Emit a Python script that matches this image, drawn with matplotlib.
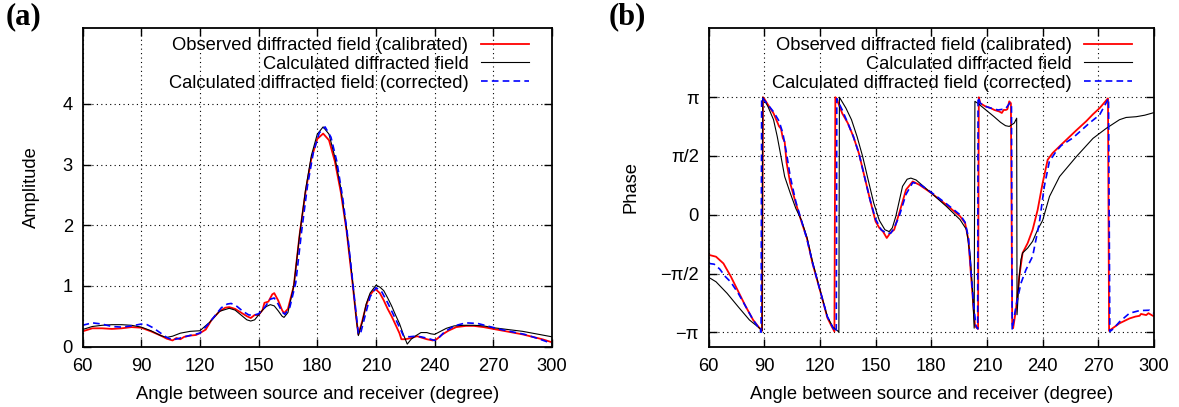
"""Observed vs calculated diffracted field: (a) amplitude, (b) phase."""

import matplotlib
matplotlib.use("Agg")

import matplotlib.pyplot as plt
import numpy as np

FS = 13.2
plt.rcParams["font.family"] = ["Liberation Sans", "DejaVu Sans"]
plt.rcParams["font.size"] = FS

LABELS = [
    "Observed diffracted field (calibrated)",
    "Calculated diffracted field",
    "Calculated diffracted field (corrected)",
]

# (a) amplitude
amp_obs_deg = [60, 65, 70, 75, 80, 85, 90, 95, 100, 103, 106, 108, 110, 112, 115, 118,
               120, 123, 126, 130, 133, 135, 138, 141, 144, 146, 148, 150, 152, 153,
               155, 157, 158, 160, 162, 163, 165, 168, 171, 174, 177, 180, 183, 186,
               189, 192, 195, 198, 200, 201, 203, 205, 207, 209, 210, 212, 214, 216,
               218, 220, 222, 223, 225, 228, 231, 234, 236, 239, 241, 244, 247, 251,
               256, 260, 265, 270, 275, 280, 285, 290, 295, 300]
amp_obs = [0.25, 0.30, 0.30, 0.29, 0.30, 0.32, 0.31, 0.25, 0.18, 0.13, 0.10, 0.14, 0.12,
           0.16, 0.18, 0.19, 0.22, 0.28, 0.44, 0.58, 0.64, 0.65, 0.62, 0.56, 0.50, 0.47,
           0.52, 0.52, 0.60, 0.72, 0.74, 0.86, 0.88, 0.76, 0.60, 0.55, 0.62, 1.0, 1.85,
           2.55, 3.10, 3.42, 3.51, 3.40, 3.05, 2.55, 1.90, 1.05, 0.45, 0.20, 0.42, 0.68,
           0.85, 0.93, 0.94, 0.88, 0.76, 0.62, 0.50, 0.36, 0.22, 0.12, 0.12, 0.14, 0.17,
           0.14, 0.12, 0.10, 0.12, 0.20, 0.26, 0.32, 0.34, 0.34, 0.32, 0.29, 0.26, 0.23,
           0.20, 0.16, 0.12, 0.07]

amp_calc_deg = [60, 65, 70, 75, 80, 85, 90, 95, 100, 103, 106, 110, 115, 120, 125, 130,
                135, 138, 141, 144, 146, 148, 150, 152, 154, 156, 158, 160, 162, 163,
                165, 168, 171, 174, 177, 180, 183, 186, 189, 192, 195, 198, 200, 201,
                203, 205, 207, 210, 212, 214, 216, 218, 220, 222, 224, 226, 228, 230,
                233, 236, 238, 240, 243, 246, 250, 255, 260, 265, 270, 275, 280, 285,
                290, 295, 300]
amp_calc = [0.28, 0.33, 0.35, 0.36, 0.36, 0.35, 0.32, 0.26, 0.18, 0.15, 0.17, 0.22, 0.25,
            0.26, 0.40, 0.58, 0.63, 0.60, 0.52, 0.44, 0.42, 0.44, 0.52, 0.60, 0.66, 0.69,
            0.67, 0.59, 0.50, 0.48, 0.56, 1.0, 1.85, 2.58, 3.15, 3.50, 3.62, 3.50, 3.12,
            2.61, 1.93, 1.10, 0.45, 0.18, 0.40, 0.70, 0.88, 1.01, 0.98, 0.92, 0.80, 0.67,
            0.52, 0.38, 0.20, 0.04, 0.12, 0.17, 0.23, 0.23, 0.21, 0.20, 0.25, 0.30, 0.34,
            0.35, 0.35, 0.34, 0.31, 0.29, 0.27, 0.25, 0.22, 0.19, 0.16]

amp_corr_deg = [60, 65, 70, 75, 80, 85, 90, 93, 96, 100, 103, 106, 109, 112, 116, 120,
                124, 128, 131, 134, 136, 139, 142, 145, 148, 150, 153, 156, 158, 160,
                162, 163.5, 166, 169, 172, 175, 178, 181, 184, 187, 190, 193, 196, 199,
                201, 202, 204, 207, 210, 213, 216, 219, 222, 224, 227, 230, 233, 237,
                240, 242, 245, 250, 256, 262, 268, 274, 280, 286, 292, 300]
amp_corr = [0.35, 0.39, 0.37, 0.33, 0.32, 0.34, 0.37, 0.36, 0.31, 0.22, 0.15, 0.11, 0.13,
            0.16, 0.19, 0.22, 0.36, 0.52, 0.64, 0.70, 0.71, 0.66, 0.58, 0.52, 0.52, 0.54,
            0.64, 0.78, 0.80, 0.70, 0.57, 0.53, 0.65, 1.05, 1.90, 2.65, 3.20, 3.52, 3.62,
            3.45, 3.05, 2.45, 1.70, 0.80, 0.22, 0.20, 0.45, 0.82, 0.97, 0.90, 0.72, 0.52,
            0.32, 0.18, 0.16, 0.17, 0.16, 0.13, 0.10, 0.14, 0.24, 0.34, 0.39, 0.38, 0.33,
            0.28, 0.24, 0.20, 0.14, 0.05]

# (b) phase in radians
ph_obs_deg = [60, 64, 68, 72, 76, 80, 84, 87, 88.8, 89.3, 90, 92, 95, 98, 99, 100, 101,
              102, 104, 107, 110, 113, 116, 120, 124, 126, 127.8, 128.3, 129, 132, 135,
              138, 141, 144, 147, 150, 152, 154, 156, 158, 160, 162.7, 166.4, 170, 173.6,
              180, 188, 195.5, 198.2, 200, 201.3, 202.7, 203.6, 205.2, 205.6, 206.4, 209,
              212, 214, 216.6, 218, 219, 220.2, 221, 222, 222.9, 223.6, 224.1, 225.6,
              227.4, 229.2, 231.9, 234.6, 237.3, 240, 242.7, 245.4, 250.8, 258, 263.5,
              267, 270.7, 275.2, 275.8, 281.4, 286.8, 290, 292.2, 293, 295.8, 297, 299.4,
              300]
ph_obs = [-1.07, -1.12, -1.30, -1.65, -2.05, -2.45, -2.81, -3.00, -3.10, 3.14, 3.10, 2.94,
          2.71, 2.36, 2.30, 2.05, 1.95, 1.40, 0.84, 0.31, -0.18, -0.63, -1.30, -2.01,
          -2.75, -2.95, -3.12, 3.14, 3.10, 2.71, 2.45, 2.09, 1.64, 1.02, 0.40, -0.18,
          -0.35, -0.45, -0.62, -0.48, -0.40, 0.04, 0.67, 0.89, 0.80, 0.58, 0.27, -0.04,
          -0.22, -0.67, -1.56, -2.45, -2.98, -3.05, 3.14, 2.98, 2.90, 2.85, 2.80, 2.76,
          2.72, 2.80, 2.80, 2.82, 3.03, 2.98, -2.90, -3.03, -2.54, -1.65, -1.02, -0.76,
          -0.40, 0.13, 0.85, 1.47, 1.65, 1.91, 2.25, 2.50, 2.68, 2.85, 3.11, -3.10, -2.90,
          -2.77, -2.72, -2.70, -2.65, -2.68, -2.63, -2.70, -2.70]

ph_calc_deg = [60, 64, 70, 76, 82, 87, 88.8, 89.2, 92, 95, 97, 99, 101, 104, 107, 110,
               113, 116, 120, 124, 127, 130.2, 130.5, 134, 137, 140, 143, 146, 149, 152,
               155, 157.3, 159, 160.9, 164.5, 167, 169, 171.8, 180, 188.2, 195.5, 199,
               201, 202.2, 203.1, 203.5, 205, 208.2, 213.6, 217.3, 220, 222, 224.7, 226,
               226.2, 227.4, 228.3, 229.2, 231.9, 234.6, 237.3, 240, 243.7, 249.1, 258.1,
               267.1, 274.3, 281.4, 285, 290.4, 295, 300]
ph_calc = [-1.67, -1.79, -2.10, -2.46, -2.81, -3.01, -3.10, 3.14, 2.89, 2.54, 2.09, 1.56,
           1.02, 0.58, 0.17, -0.14, -0.60, -1.25, -2.0, -2.72, -3.0, -3.13, 3.14, 2.85,
           2.54, 2.09, 1.56, 0.93, 0.31, -0.15, -0.40, -0.45, -0.35, -0.04, 0.76, 0.95,
           0.98, 0.93, 0.58, 0.22, -0.13, -0.40, -1.11, -2.0, -3.03, 3.03, 2.98, 2.85,
           2.63, 2.47, 2.38, 2.36, 2.45, 2.58, -2.67, -1.65, -1.2, -1.02, -0.89, -0.71,
           -0.40, -0.15, 0.49, 1.02, 1.55, 2.04, 2.31, 2.54, 2.60, 2.62, 2.66, 2.73]

ph_corr_deg = [60, 63, 66, 69, 72, 76, 80, 84, 87, 88.3, 88.6, 92, 95, 98, 100, 102, 104,
               107, 110, 113, 116, 120, 124, 127, 128.8, 129.1, 132, 135, 138, 141, 144,
               147, 150, 153, 156, 158.2, 160, 162.7, 166.4, 170, 173.6, 180, 188, 195.5,
               198.2, 200, 201.3, 202.7, 204, 205, 205.2, 206.4, 209, 212, 216, 220, 222.5,
               223.2, 223.6, 225.6, 228.3, 231, 234.6, 238.2, 240.9, 243.6, 247.2, 250,
               256.2, 265.2, 270.7, 275.5, 276.2, 278, 281.4, 286.8, 292.2, 297.6, 300]
ph_corr = [-1.30, -1.32, -1.45, -1.65, -1.80, -2.10, -2.45, -2.81, -3.02, -3.14, 3.14,
           2.94, 2.75, 2.50, 2.18, 1.64, 1.02, 0.35, -0.15, -0.65, -1.28, -2.01, -2.72,
           -3.02, -3.13, 3.10, 2.80, 2.45, 2.09, 1.64, 1.02, 0.40, -0.12, -0.40, -0.50,
           -0.49, -0.35, -0.04, 0.55, 0.86, 0.82, 0.60, 0.30, 0.00, -0.20, -0.60, -1.45,
           -2.35, -2.95, -3.05, 3.14, 2.98, 2.90, 2.85, 2.80, 2.83, 3.00, 2.95, -3.07,
           -2.45, -1.83, -1.47, -1.11, -0.22, 0.76, 1.42, 1.69, 1.85, 2.05, 2.45, 2.67,
           3.11, -3.12, -3.05, -2.86, -2.63, -2.56, -2.55, -2.63]

X_TICKS = [60, 90, 120, 150, 180, 210, 240, 270, 300]
PHASE_TICKS = [-np.pi, -np.pi / 2, 0, np.pi / 2, np.pi]
PHASE_TICK_LABELS = ["\u2212\u03c0", "\u2212\u03c0/2", "0", "\u03c0/2", "\u03c0"]


def style_axes(ax):
    ax.set_xlim(60, 300)
    ax.set_xticks(X_TICKS)
    ax.tick_params(direction="in", length=6, width=1.0, top=True, right=True,
                   labelsize=FS, pad=7)
    ax.tick_params(axis="x", pad=8)
    ax.grid(True, color="black", linestyle=(0, (1, 3)), linewidth=0.8)
    for sp in ax.spines.values():
        sp.set_linewidth(1.3)
    ax.set_xlabel("Angle between source and receiver (degree)", labelpad=8)


def draw(ax, obs, calc, corr):
    ax.plot(*obs, color="red", lw=1.3, label=LABELS[0])
    ax.plot(*calc, color="black", lw=0.8, label=LABELS[1])
    ax.plot(*corr, color="blue", lw=1.2, dashes=(4, 2.5), label=LABELS[2])
    ax.legend(loc="upper right", frameon=False, markerfirst=False, borderpad=0,
              borderaxespad=0, handlelength=2.6, handletextpad=0.7, labelspacing=0.1,
              bbox_to_anchor=(1 - 23 / 469, 1 - 9 / 318.5), fontsize=FS)


fig = plt.figure(figsize=(11.79, 4.07), dpi=100)
ax1 = fig.add_axes([0.0700, 0.1486, 0.3982, 0.7826])
ax2 = fig.add_axes([0.6010, 0.1486, 0.3778, 0.7826])

draw(ax1, (amp_obs_deg, amp_obs), (amp_calc_deg, amp_calc), (amp_corr_deg, amp_corr))
style_axes(ax1)
ax1.set_ylim(0, 5.25)
ax1.set_yticks([0, 1, 2, 3, 4])
ax1.set_ylabel("Amplitude")
ax1.yaxis.set_label_coords(-0.090, 0.5)

draw(ax2, (ph_obs_deg, ph_obs), (ph_calc_deg, ph_calc), (ph_corr_deg, ph_corr))
style_axes(ax2)
ax2.set_ylim(-3.52, 4.99)
ax2.set_yticks(PHASE_TICKS)
ax2.set_yticklabels(PHASE_TICK_LABELS)
ax2.set_ylabel("Phase")
ax2.yaxis.set_label_coords(-0.155, 0.5)

for x, lab in [(6, "(a)"), (609, "(b)")]:
    fig.text(x / 1179, 1 - 2 / 407, lab, ha="left", va="top", fontsize=22,
             fontweight="bold", family=["Liberation Serif", "DejaVu Serif"])

fig.savefig("out.png", dpi=100)
